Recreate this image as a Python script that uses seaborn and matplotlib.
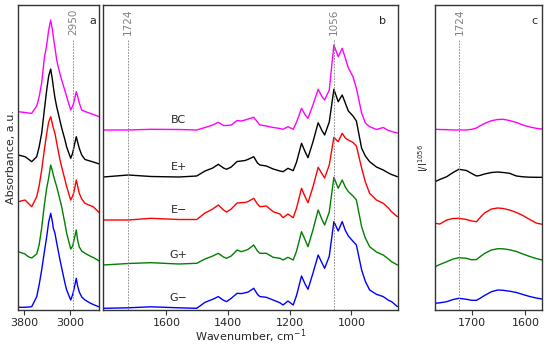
import numpy as np
import pandas as pd
import matplotlib
matplotlib.use("Agg")
import matplotlib.pyplot as plt
import matplotlib.transforms as mtransforms
import seaborn as sns

sns.set_theme(style="ticks")
plt.rcParams["font.family"] = ["DejaVu Sans"]

samples = ["BC", "E+", "E\u2212", "G+", "G\u2212"]
colors = ["#ff00ff", "#000000", "#ff0000", "#008000", "#0000ff"]

# ---- panel a: 3900-2500 cm-1 (stacked absorbance, a.u.)
wn_a = [3900, 3784, 3727, 3668, 3582, 3540, 3496, 3450, 3409, 3375, 3340, 3310, 3295, 3266,
        3236, 3209, 3179, 3150, 3093, 3064, 2994, 2960, 2937, 2898, 2875, 2846, 2804, 2747,
        2661, 2604, 2500]
a_BC = [198.3, 197.5, 197, 196.7, 204, 213, 227, 252, 265, 280, 290, 280, 273.3, 262, 250,
        243, 236, 230, 219, 213.3, 200, 204, 208.3, 218.3, 214, 207, 200, 198.5, 196.7, 195.5, 193.3]
a_Ep = [155, 153.3, 151, 148.3, 153.3, 163, 176.7, 200, 220, 234, 241, 230, 223.3, 212, 203,
        196.7, 189, 182, 170, 163, 151.7, 157, 163.3, 173.3, 168, 161.7, 155, 150.5, 149, 148, 146]
a_Em = [108.3, 110, 106.7, 103.3, 113.3, 124, 140, 160, 176.7, 188, 193.3, 186, 182, 176.7, 167,
        159, 150, 143, 130, 123.3, 110, 114, 118.3, 130, 124, 116.7, 111, 106.7, 104.5, 103.3, 97.3]
a_Gp = [58.3, 56, 53.3, 52, 56, 65, 82, 105, 122, 132, 145, 139, 135, 129, 123.3, 117, 110,
        103.3, 86, 76.7, 61, 64, 70, 80, 70, 63, 59, 56.7, 54, 52.5, 49]
a_Gm = [2.7, 2.7, 3, 3.3, 13.3, 25, 40, 58, 73.3, 88, 96.7, 88, 82, 76.7, 67, 59, 50, 42, 26.7,
        20, 10, 15.5, 21, 31.7, 24, 18, 13, 10, 7, 5.5, 3]

# ---- panel b: 1805-850 cm-1 (band heights above each baseline + stacking offsets)
wn_b = [1805, 1724, 1650, 1560, 1502, 1475, 1450, 1432, 1415, 1405, 1390, 1371, 1357, 1345,
        1335, 1317, 1305, 1297, 1276, 1254, 1232, 1222, 1206, 1189, 1178, 1162, 1150, 1141,
        1125, 1108, 1095, 1087, 1072, 1057, 1043, 1030, 1020, 1010, 995, 984, 967, 955, 941,
        919, 897, 880, 870, 851]
b_BC = [0, 0, 0.7, 0.5, 0, 2.5, 5, 7.7, 4.5, 4.5, 5, 9.5, 9, 10, 11, 12.7, 8, 5, 4, 2.5, 1.5,
        0.7, 3.3, 0.7, 8, 21.7, 15, 11.7, 25, 40.7, 33, 30, 40, 85, 73.3, 81.7, 72, 62, 53.3,
        41.7, 17, 7, 3.3, 0.5, 2.5, -0.5, -1.5, -3]
b_Ep = [0, 2, 0.5, 0, 1, 6, 9, 12.7, 9, 7.7, 10, 15.5, 16, 16.5, 17.7, 20.3, 14, 12, 11, 8, 6,
        5.3, 8.7, 6.3, 15, 33.7, 25, 19.3, 35, 54.3, 46, 42, 55, 87.7, 75.3, 82, 74, 66, 61,
        56, 28.7, 21, 15.3, 10, 7, 4, 2.5, 0.3]
b_Em = [0, 0, 1.7, 0.5, 0.5, 7, 11, 15, 10, 8, 11, 17, 17.3, 17.5, 18.5, 21.7, 16, 13.3, 14,
        8.3, 6, 2.3, 6, 2.3, 12, 31.7, 23, 17.3, 33, 52.7, 46, 42, 55, 82.7, 78.3, 86.7, 82, 80,
        77.5, 74, 52, 38, 26.7, 20, 16.7, 12, 8.3, 3.3]
b_Gp = [0, 1.5, 2.3, 1, 1.7, 6, 9, 11.7, 8, 6.7, 9, 15, 13.3, 14.5, 15.7, 20, 14, 11.7, 11.7,
        7.7, 6.7, 5, 7.7, 5, 14, 33.3, 25, 18.3, 35, 55, 45, 40, 53, 87.7, 76.7, 85, 78, 73.3,
        69, 65, 38.3, 27, 18.3, 13, 10, 6, 3.3, 0]
b_Gm = [0, 0.5, 1.5, 0.5, 0, 6, 9, 11.7, 8, 6.7, 10, 15, 14.7, 15.5, 16.3, 20, 14, 11.7, 11,
        8.3, 5.5, 3.3, 7.3, 3.3, 13, 32.3, 24, 19, 35, 53.3, 45, 40, 52, 86.7, 77.3, 86.7, 78,
        72.3, 67, 63.3, 38.3, 27, 18.3, 14, 11.7, 8, 6.7, 1.7]
b_offset = [180, 133, 90, 45, 1.7]

# ---- panel c: 1770-1569 cm-1 (I/I1056, stacked)
wn_c = [1770, 1761, 1748, 1736, 1725, 1711, 1701, 1692, 1686, 1677, 1664, 1652, 1642, 1630,
        1617, 1605, 1592, 1580, 1569]
c_BC = [180.7, 180.5, 180.3, 180, 180, 180, 180.7, 182, 184, 186.5, 189.3, 190.5, 190.7, 189.5,
        187.5, 185, 183, 181.7, 181]
c_Ep = [128.3, 130.5, 133.3, 137.5, 140.7, 139.5, 136.5, 134, 134.5, 136, 137.5, 138, 137.5,
        136.7, 134, 133.2, 132.8, 132.7, 132.7]
c_Em = [86.7, 86, 90, 91.5, 91.7, 90.5, 89, 88.3, 92, 97, 101, 102, 101.5, 100, 97.5, 94.5,
        90.5, 87, 85.7]
c_Gp = [43.3, 45.5, 48.3, 51, 52.3, 51.7, 50.2, 50.5, 53, 56.5, 60, 61.3, 61.2, 60.2, 58.5, 56,
        53.5, 51.5, 50]
c_Gm = [6.7, 7.2, 8.3, 10.5, 11.7, 10.7, 9.7, 9.7, 11.5, 14.5, 18.3, 20, 19.7, 18.8, 17.5, 15.5,
        13.5, 12, 11]

ticks_a = [3800, 3000]
ticks_b = [1600, 1400, 1200, 1000]
ticks_c = [1700, 1600]


def long_df(wn, series, offsets=None):
    rows = []
    for i, (name, ys) in enumerate(zip(samples, series)):
        off = offsets[i] if offsets is not None else 0
        for x, y in zip(wn, ys):
            rows.append({"wn": x, "y": y + off, "sample": name})
    return pd.DataFrame(rows)


df_a = long_df(wn_a, [a_BC, a_Ep, a_Em, a_Gp, a_Gm])
df_b = long_df(wn_b, [b_BC, b_Ep, b_Em, b_Gp, b_Gm], b_offset)
df_c = long_df(wn_c, [c_BC, c_Ep, c_Em, c_Gp, c_Gm])

fig = plt.figure(figsize=(5.5, 3.45), dpi=100)
H = 345.0
W = 550.0
bottom = 35 / H
height = 305 / H
ax_a = fig.add_axes([18.3 / W, bottom, 81 / W, height])
ax_b = fig.add_axes([103.3 / W, bottom, 294.4 / W, height])
ax_c = fig.add_axes([435 / W, bottom, 107 / W, height])

pal = dict(zip(samples, colors))
for ax, df in [(ax_a, df_a), (ax_b, df_b), (ax_c, df_c)]:
    sns.lineplot(data=df, x="wn", y="y", hue="sample", palette=pal, estimator=None,
                 legend=False, lw=1.0, ax=ax)
    ax.set_ylim(0, 305)
    ax.set_yticks([])
    ax.set_xlabel("")
    ax.set_ylabel("")
    for s in ax.spines.values():
        s.set_color("#333333")
        s.set_linewidth(1.0)
    ax.tick_params(axis="x", labelsize=8, length=3.5, width=0.8, color="#333333", pad=2)

ax_a.set_xlim(3900, 2500)
ax_b.set_xlim(1805, 850)
ax_c.set_xlim(1770, 1569)
ax_a.set_xticks(ticks_a)
ax_b.set_xticks(ticks_b)
ax_c.set_xticks(ticks_c)

ax_a.set_ylabel("Absorbance, a.u.", fontsize=8, labelpad=2)
ax_c.set_ylabel("I/I$^{1056}$", fontsize=7, labelpad=3)
ax_b.set_xlabel("Wavenumber, cm$^{-1}$", fontsize=8, labelpad=0)


def vmark(ax, x):
    ax.axvline(x, ymax=0.885, color="gray", lw=0.6, ls=(0, (2, 1.5)))
    tr = mtransforms.blended_transform_factory(ax.transData, ax.transAxes)
    ax.text(x, 0.945, str(x), transform=tr, rotation=90, ha="center", va="center",
            color="gray", fontsize=7.5)


vmark(ax_a, 2950)
vmark(ax_b, 1724)
vmark(ax_b, 1056)
vmark(ax_c, 1724)

for ax, letter in [(ax_a, "a"), (ax_b, "b"), (ax_c, "c")]:
    ax.text(0.96, 0.965, letter, transform=ax.transAxes, ha="right", va="top", fontsize=8)

label_y = [b + 10 for b in b_offset]
for name, yy in zip(samples, label_y):
    ax_b.text(1560, yy, name, ha="center", va="center", fontsize=8)

fig.savefig("out.png", dpi=100)
